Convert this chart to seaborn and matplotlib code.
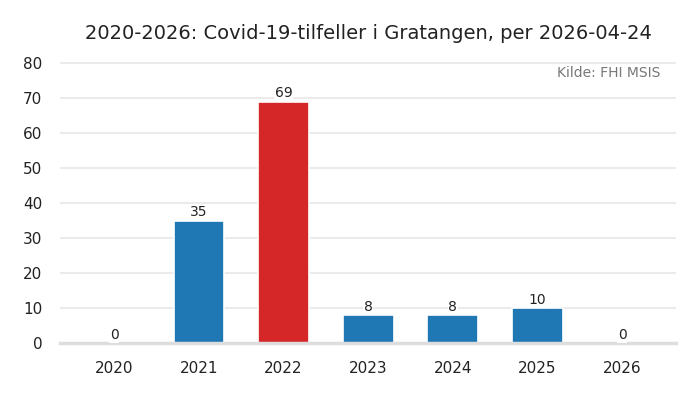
import matplotlib
matplotlib.use("Agg")
import matplotlib.pyplot as plt
import seaborn as sns
import pandas as pd

# data
years = ["2020", "2021", "2022", "2023", "2024", "2025", "2026"]
cases = [0, 35, 69, 8, 8, 10, 0]
highlight = "2022"

sns.set_theme(style="whitegrid")
plt.rcParams['font.family'] = ['DejaVu Sans']

df = pd.DataFrame({'year': years, 'cases': cases})
palette = {y: ('#d62728' if y == highlight else '#1f77b4') for y in years}

fig = plt.figure(figsize=(7, 4), dpi=100)
ax = fig.add_axes([0.086, 0.1425, 0.88, 0.7035])
sns.barplot(data=df, x='year', y='cases', hue='year', palette=palette,
            width=0.6, edgecolor='white', linewidth=1.2, legend=False, ax=ax,
            saturation=1)

for i, v in enumerate(cases):
    ax.text(i, v + 0.3, f"{v:.0f}", ha='center', va='bottom', fontsize=10,
            color='#222222',
            bbox=dict(facecolor='white', edgecolor='none', pad=0.5))

ax.set_ylim(0, 80.4)
ax.set_xlim(-0.64, len(years) - 1 + 0.64)
ax.set_yticks(range(0, 81, 10))
ax.set_xlabel('')
ax.set_ylabel('')
ax.grid(axis='y', color='#ebebeb', linewidth=1.5)
ax.grid(axis='x', visible=False)
ax.set_axisbelow(True)
for s in ['top', 'right', 'left']:
    ax.spines[s].set_visible(False)
ax.spines['bottom'].set_color('#dddddd')
ax.spines['bottom'].set_linewidth(2.5)
ax.tick_params(axis='both', labelsize=11, colors='#222222', length=0)
ax.tick_params(axis='x', pad=13)
ax.tick_params(axis='y', pad=13)

ax.text(0.975, 0.985, 'Kilde: FHI MSIS', transform=ax.transAxes, ha='right',
        va='top', fontsize=10, color='#777777')
fig.suptitle('2020-2026: Covid-19-tilfeller i Gratangen, per 2026-04-24',
             x=0.526, y=0.94, fontsize=14, color='#222222')

plt.savefig('out.png', dpi=100)
